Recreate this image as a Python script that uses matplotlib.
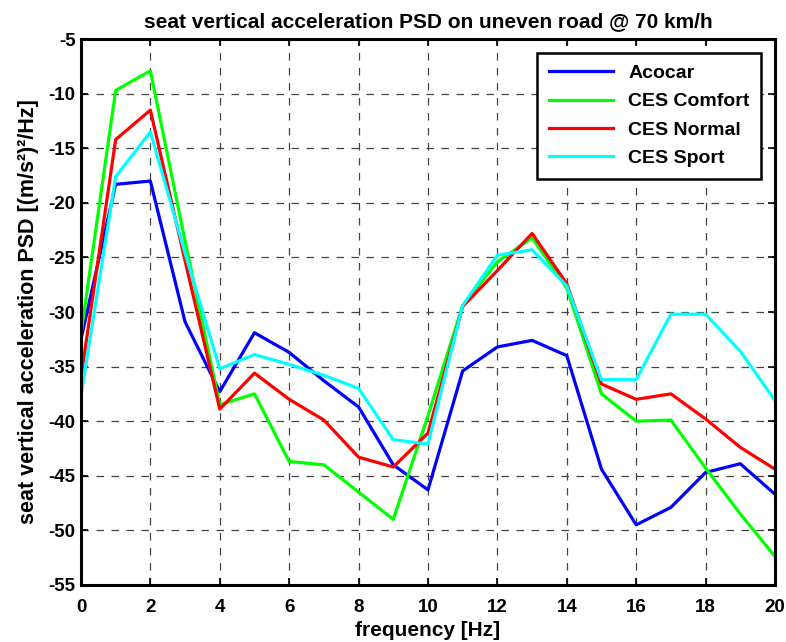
import numpy as np
import matplotlib
matplotlib.use('Agg')
import matplotlib.pyplot as plt

plt.rcParams['font.family'] = ['Liberation Sans', 'DejaVu Sans']
plt.rcParams['font.weight'] = 'bold'
plt.rcParams['axes.unicode_minus'] = False

freq = np.arange(0, 21)
acocar  = [-32.5, -18.3, -18.0, -30.9, -37.3, -31.9, -33.7, -36.3, -38.7, -44.0, -46.3,
           -35.4, -33.2, -32.6, -34.0, -44.4, -49.5, -47.9, -44.7, -43.9, -46.7]
comfort = [-32.0, -9.7, -7.9, -23.5, -38.5, -37.5, -43.7, -44.0, -46.5, -49.0, -39.5,
           -29.4, -25.4, -23.2, -27.8, -37.5, -40.0, -39.9, -44.3, -48.5, -52.4]
normal  = [-36.0, -14.2, -11.5, -25.3, -38.9, -35.6, -38.0, -39.9, -43.3, -44.2, -41.1,
           -29.5, -26.2, -22.8, -27.4, -36.6, -38.0, -37.5, -39.8, -42.4, -44.4]
sport   = [-37.7, -17.6, -13.5, -24.6, -35.2, -33.9, -34.8, -35.8, -37.0, -41.7, -42.1,
           -29.4, -24.8, -24.3, -27.6, -36.2, -36.2, -30.2, -30.2, -33.6, -38.1]

names = ['Acocar', 'CES Comfort', 'CES Normal', 'CES Sport']
colors = ['#0000ff', '#00ff00', '#ff0000', '#00ffff']

fig = plt.figure(figsize=(7.86, 6.42), dpi=100)
ax = fig.add_axes([0.103, 0.089, 0.883, 0.850])

for ys, nm, c in zip([acocar, comfort, normal, sport], names, colors):
    ax.plot(freq, ys, color=c, lw=2.3, label=nm)

ax.set_xlim(0, 20)
ax.set_ylim(-55, -5)
ax.set_xticks(np.arange(0, 21, 2))
ax.set_yticks(np.arange(-55, -4, 5))
ax.grid(True, ls=(0, (6, 6)), color='#444444', lw=0.9)
ax.tick_params(direction='in', top=True, right=True, labelsize=13.5, width=1.2, length=5, pad=4)
ax.tick_params(axis='x', pad=10)
for sp in ax.spines.values():
    sp.set_linewidth(2.2)

ax.set_title('seat vertical acceleration PSD on uneven road @ 70 km/h', fontsize=15, fontweight='bold', pad=9)
ax.set_xlabel('frequency [Hz]', fontsize=15, fontweight='bold', labelpad=4)
ax.set_ylabel('seat vertical acceleration PSD [(m/s²)²/Hz]', fontsize=15.5, fontweight='bold', labelpad=7)

leg = ax.legend(loc='upper right', fontsize=14, fancybox=False, framealpha=1,
                edgecolor='black', handlelength=3.3, borderaxespad=0.7, labelspacing=0.55,
                borderpad=0.6)
leg.get_frame().set_linewidth(1.8)

fig.savefig('out.png', dpi=100)
